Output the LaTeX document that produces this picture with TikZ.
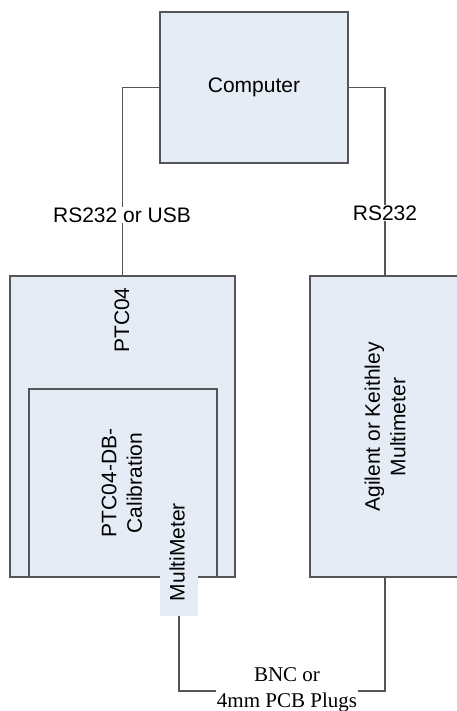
\documentclass[tikz,border=0pt]{standalone}
\usepackage{fontspec}
\setmainfont{Liberation Sans}
\newfontfamily\serifface{Liberation Serif}
\definecolor{boxfill}{HTML}{E6ECF6}
\definecolor{edge}{HTML}{555555}
\begin{document}
\begin{tikzpicture}[x=1pt,y=-1pt,
  font=\fontsize{21}{25.5}\selectfont,
  box/.style={draw=edge,line width=1.1pt,fill=boxfill,inner sep=0pt},
  conn/.style={draw=edge,line width=1.1pt},
  lbl/.style={fill=white,inner sep=1pt,align=center},
  vtext/.style={rotate=90,align=center,inner sep=0pt}]
\useasboundingbox (0,0) rectangle (457,711);
\clip (0,0) rectangle (457,711);
% boxes
\node[box,minimum width=188pt,minimum height=151pt] (comp) at (254,87.5) {Computer};
\node[box,minimum width=225pt,minimum height=301pt] (ptc) at (122.5,426.5) {};
\node[box,minimum width=188pt,minimum height=188pt] (db) at (123,483) {};
\node[box,minimum width=170pt,minimum height=301pt] (agil) at (395,426.5) {};
\node[fill=boxfill,inner sep=0pt,minimum width=38pt,minimum height=115pt] (mm) at (179,558.5) {};
% texts
\node[vtext] (ptct) at (122,320) {PTC04};
\node[vtext] (dbt) at (122,483) {PTC04-DB-\\Calibration};
\node[vtext] (mmt) at (177,552) {MultiMeter};
\node[vtext] (agilt) at (385,427) {Agilent or Keithley\\Multimeter};
% connectors
\coordinate (rt) at (385,276);
\coordinate (rb) at (385,577);
\draw[conn] (comp.west) -| (ptc.north);
\draw[conn] (comp.east) -| (rt);
\coordinate (bc) at (287,691);
\draw[conn] (mm.south) |- (bc) -| (rb);
% labels
\node[lbl] (l1) at (122,215) {RS232 or USB};
\node[lbl] (l2) at (385,213) {RS232};
\node[lbl,font=\serifface\fontsize{21}{26}\selectfont] (l3) at (287,690) {BNC or\\4mm PCB Plugs};
\end{tikzpicture}
\end{document}
